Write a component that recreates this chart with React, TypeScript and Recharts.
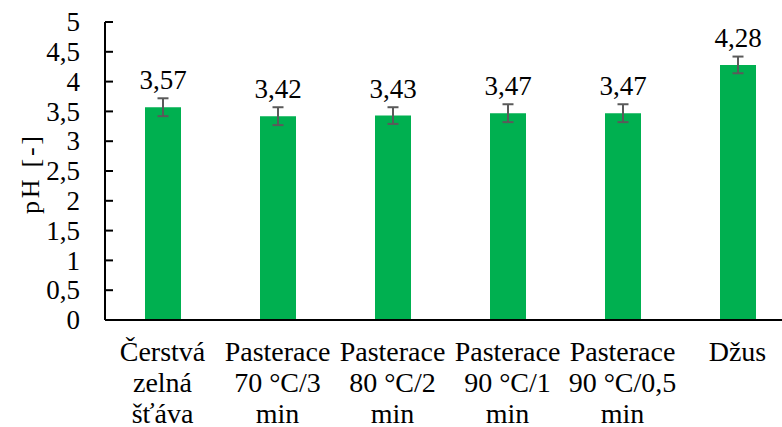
import { BarChart, Bar, XAxis, YAxis, ErrorBar, LabelList } from "recharts";

const CATEGORIES: string[][] = [
  ["Čerstvá", "zelná", "šťáva"],
  ["Pasterace", "70 °C/3", "min"],
  ["Pasterace", "80 °C/2", "min"],
  ["Pasterace", "90 °C/1", "min"],
  ["Pasterace", "90 °C/0,5", "min"],
  ["Džus"],
];
const PH_VALUES = [3.57, 3.42, 3.43, 3.47, 3.47, 4.28];
const PH_ERRORS = [0.15, 0.15, 0.14, 0.15, 0.15, 0.14];
const Y_TICKS = [0, 0.5, 1, 1.5, 2, 2.5, 3, 3.5, 4, 4.5, 5];

const FONT = "Liberation Serif";
const BAR_COLOR = "#00B050";

const data = CATEGORIES.map((lines, i) => ({
  name: lines.join(" "),
  ph: PH_VALUES[i],
  err: PH_ERRORS[i],
}));

const fmt = (v: number) => String(v).replace(".", ",");

function YTick(props: any) {
  const { x, y, payload } = props;
  return (
    <g>
      <line x1={x} x2={x + 8} y1={y} y2={y} stroke="#000" strokeWidth={2} />
      <text
        x={x - 25}
        y={y}
        dy="0.34em"
        textAnchor="end"
        fontFamily={FONT}
        fontSize={27}
        fill="#000"
      >
        {fmt(payload.value)}
      </text>
    </g>
  );
}

function XTick(props: any) {
  const { x, y, index } = props;
  const lines = CATEGORIES[index] ?? [];
  return (
    <text x={x} y={y} textAnchor="middle" fontFamily={FONT} fontSize={28} fill="#000">
      {lines.map((l, i) => (
        <tspan key={i} x={x} y={y + 41 + i * 31}>
          {l}
        </tspan>
      ))}
    </text>
  );
}

function ValueLabel(props: any) {
  const { x, y, width, value } = props;
  return (
    <text
      x={x + width / 2}
      y={y - 18}
      textAnchor="middle"
      fontFamily={FONT}
      fontSize={27}
      fill="#000"
    >
      {fmt(value)}
    </text>
  );
}

export default function App() {
  return (
    <div
      style={{
        position: "absolute",
        left: 0,
        top: 0,
        width: 782,
        height: 427,
        overflow: "hidden",
        background: "#fff",
      }}
    >
      <BarChart
        width={800}
        height={427}
        data={data}
        margin={{ top: 22, right: 5, bottom: 0, left: 0 }}
        barSize={36}
      >
        <XAxis
          dataKey="name"
          height={107}
          interval={0}
          tickLine={false}
          tickSize={0}
          tickMargin={0}
          axisLine={{ stroke: "#000", strokeWidth: 2 }}
          tick={<XTick />}
        />
        <YAxis
          width={105}
          domain={[0, 5]}
          ticks={Y_TICKS}
          interval={0}
          tickLine={false}
          tickSize={0}
          tickMargin={0}
          axisLine={{ stroke: "#000", strokeWidth: 2 }}
          tick={<YTick />}
          label={() => (
            <text
              x={30}
              y={175}
              transform="rotate(-90, 30, 175)"
              textAnchor="middle"
              dy="0.33em"
              fontFamily={FONT}
              fontSize={26}
              textLength={78}
              lengthAdjust="spacing"
              fill="#000"
            >
              pH [-]
            </text>
          )}
        />
        <Bar dataKey="ph" fill={BAR_COLOR} isAnimationActive={false}>
          <ErrorBar
            dataKey="err"
            direction="y"
            width={5.5}
            stroke="#5a5a5a"
            strokeWidth={2}
            isAnimationActive={false}
          />
          <LabelList dataKey="ph" content={<ValueLabel />} />
        </Bar>
      </BarChart>
    </div>
  );
}
